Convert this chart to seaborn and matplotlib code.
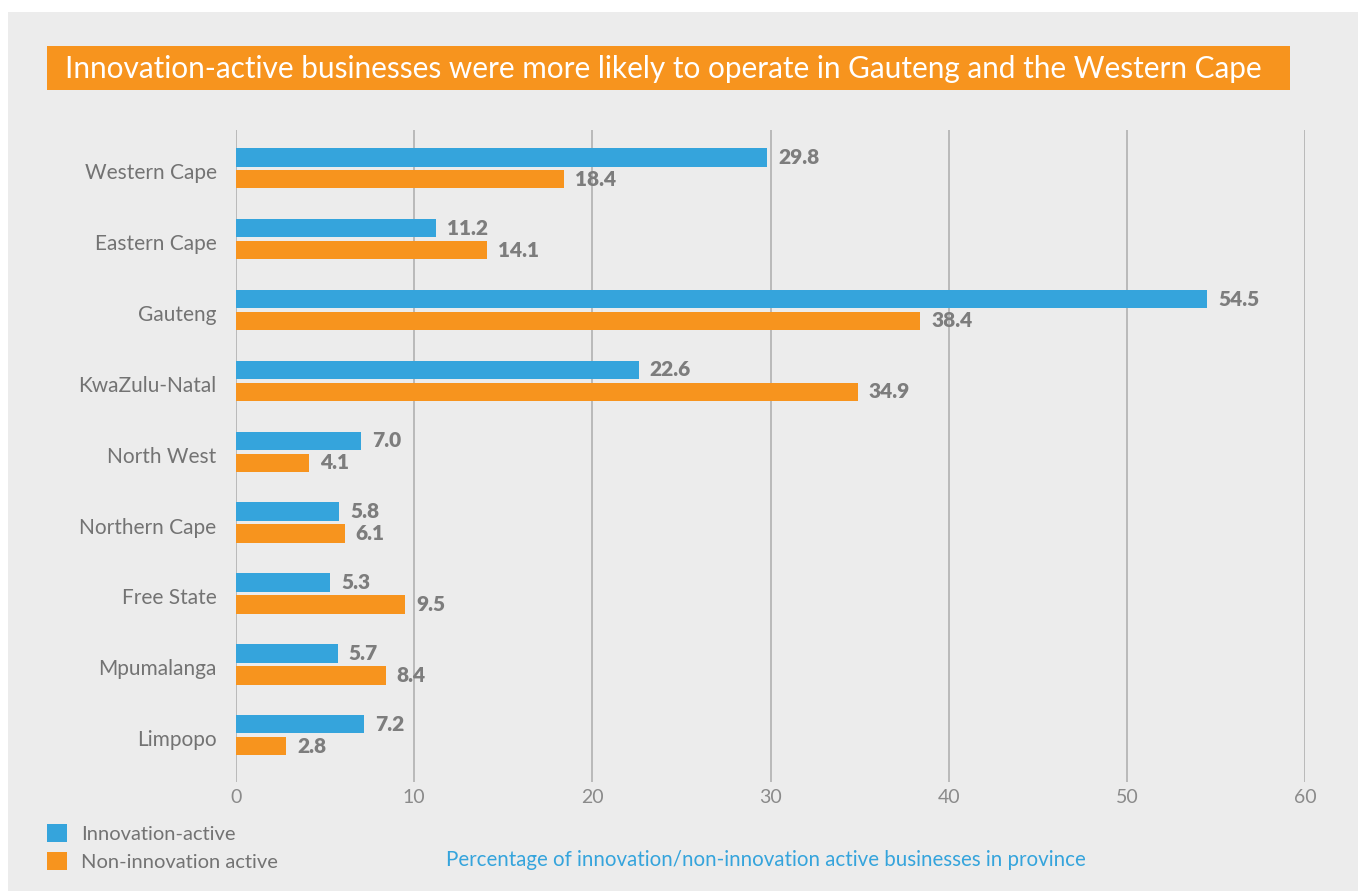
import matplotlib
matplotlib.use("Agg")
import matplotlib.pyplot as plt
from matplotlib.patches import Rectangle, Patch
from matplotlib.transforms import ScaledTranslation
import seaborn as sns
import pandas as pd

provinces = ["Western Cape", "Eastern Cape", "Gauteng", "KwaZulu-Natal", "North West",
             "Northern Cape", "Free State", "Mpumalanga", "Limpopo"]
innovation_active = [29.8, 11.2, 54.5, 22.6, 7.0, 5.8, 5.3, 5.7, 7.2]
non_innovation_active = [18.4, 14.1, 38.4, 34.9, 4.1, 6.1, 9.5, 8.4, 2.8]
series_names = ["Innovation-active", "Non-innovation active"]
x_ticks = [0, 10, 20, 30, 40, 50, 60]

title = "Innovation-active businesses were more likely to operate in Gauteng and the Western Cape"
x_title = "Percentage of innovation/non-innovation active businesses in province"

BLUE = "#35a4dc"
ORANGE = "#f7941e"
PANEL = "#ececec"
GREY_TEXT = "#737373"
GRID = "#b5b5b5"

df = pd.DataFrame({
    "province": provinces * 2,
    "value": innovation_active + non_innovation_active,
    "series": [series_names[0]] * len(provinces) + [series_names[1]] * len(provinces),
})

sns.set_theme(style="white")
plt.rcParams["font.family"] = ["Lato", "DejaVu Sans"]

fig = plt.figure(figsize=(13.58, 8.92), dpi=100, facecolor="white")
W, H = 1358, 892

# light grey panel behind everything
fig.patches.append(Rectangle((8 / W, 1 / H), 1 - 8 / W, (891 - 12) / H,
                             transform=fig.transFigure, facecolor=PANEL,
                             edgecolor="none", zorder=0))

# orange title banner
fig.patches.append(Rectangle((47 / W, 1 - 90 / H), (1290 - 47) / W, 44 / H,
                             transform=fig.transFigure, facecolor=ORANGE,
                             edgecolor="none", zorder=1))
fig.text(65 / W, 1 - 69 / H, title, color="white", fontsize=21.4,
         ha="left", va="center", zorder=2)

ax = fig.add_axes([236 / W, 1 - 782 / H, (1305 - 236) / W, (782 - 130) / H])
ax.set_zorder(5)
ax.set_facecolor("none")

sns.barplot(data=df, y="province", x="value", hue="series", orient="h",
            palette=[BLUE, ORANGE], width=0.62, gap=0.16, ax=ax,
            order=provinces, hue_order=series_names, saturation=1, legend=False,
            linewidth=0, zorder=3)

for cont in ax.containers:
    ax.bar_label(cont, fmt="%.1f", padding=8, fontsize=15, fontweight="heavy",
                 color="#7d7d7d")

ax.set_xlim(0, 60)
ax.set_ylim(8.66, -0.54)
ax.set_xticks(x_ticks)
ax.set_xticklabels([str(t) for t in x_ticks])
ax.xaxis.grid(True, color=GRID, linewidth=1.3, zorder=0)
ax.set_axisbelow(True)
for s in ax.spines.values():
    s.set_visible(False)
ax.tick_params(axis="x", length=0, pad=5, labelsize=14, labelcolor="#8a8a8a")
ax.tick_params(axis="y", length=0, pad=14, labelsize=15, labelcolor=GREY_TEXT)
# nudge province names slightly below their group centres
shift = ScaledTranslation(0, -3 / 100, fig.dpi_scale_trans)
for lab in ax.get_yticklabels():
    lab.set_transform(lab.get_transform() + shift)
ax.set_xlabel("")
ax.set_ylabel("")

# legend in the lower-left corner
handles = [Patch(facecolor=BLUE, edgecolor="none"), Patch(facecolor=ORANGE, edgecolor="none")]
leg = fig.legend(handles, series_names, loc="upper left",
                 bbox_to_anchor=(43 / W, 1 - 820 / H), frameon=False,
                 fontsize=14.5, handlelength=1.0, handleheight=1.0,
                 handletextpad=0.7, labelspacing=0.45, borderaxespad=0,
                 borderpad=0.2)
for t in leg.get_texts():
    t.set_color(GREY_TEXT)

fig.text(446 / W, 1 - 860 / H, x_title, color=BLUE, fontsize=14.8,
         ha="left", va="center")

fig.savefig("out.png", dpi=100, facecolor="white")
